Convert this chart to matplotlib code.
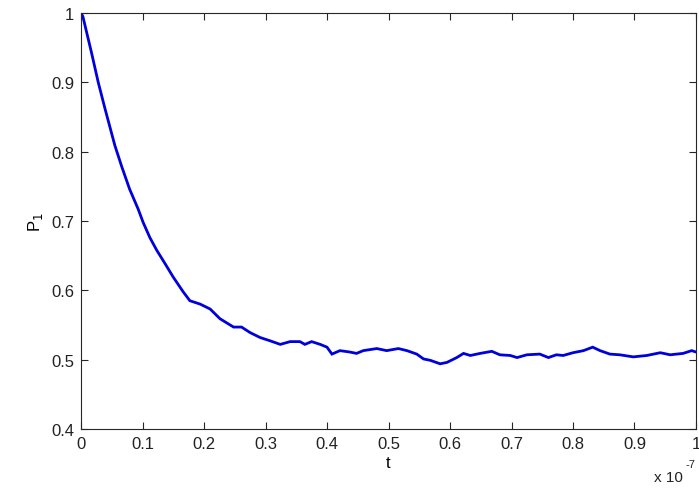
import numpy as np
import matplotlib
matplotlib.use("Agg")
import matplotlib.pyplot as plt

# time axis in units of 1e-7 s, P1
t_scaled = [
    0.000, 0.003, 0.017, 0.028, 0.039, 0.055, 0.066, 0.079, 0.093, 0.101,
    0.112, 0.123, 0.137, 0.150, 0.166, 0.177, 0.194, 0.210, 0.226, 0.248,
    0.261, 0.275, 0.291, 0.308, 0.324, 0.340, 0.356, 0.364, 0.375, 0.389,
    0.400, 0.408, 0.421, 0.437, 0.448, 0.459, 0.481, 0.497, 0.516, 0.530,
    0.546, 0.557, 0.568, 0.584, 0.595, 0.611, 0.622, 0.633, 0.649, 0.668,
    0.681, 0.698, 0.709, 0.725, 0.746, 0.760, 0.773, 0.784, 0.800, 0.817,
    0.832, 0.844, 0.860, 0.876, 0.898, 0.920, 0.942, 0.958, 0.979, 0.993,
    1.000,
]
p1 = [
    1.000, 0.995, 0.943, 0.900, 0.862, 0.809, 0.779, 0.746, 0.717, 0.698,
    0.676, 0.658, 0.638, 0.619, 0.598, 0.585, 0.580, 0.573, 0.559, 0.547,
    0.547, 0.539, 0.532, 0.527, 0.522, 0.526, 0.526, 0.522, 0.526, 0.522,
    0.518, 0.508, 0.513, 0.511, 0.509, 0.513, 0.516, 0.513, 0.516, 0.513,
    0.508, 0.501, 0.499, 0.494, 0.496, 0.503, 0.509, 0.506, 0.509, 0.512,
    0.507, 0.506, 0.503, 0.507, 0.508, 0.503, 0.507, 0.506, 0.510, 0.513,
    0.518, 0.513, 0.508, 0.507, 0.504, 0.506, 0.510, 0.507, 0.509, 0.513,
    0.511,
]

plt.rcParams["font.family"] = ["Liberation Sans", "DejaVu Sans"]
plt.rcParams["font.size"] = 12

fig = plt.figure(figsize=(6.99, 4.89), dpi=100)
ax = fig.add_axes([0.1159, 0.1207, 0.8798, 0.8507])

t = np.array(t_scaled) * 1e-7
ax.plot(t, p1, color="#0000dd", linewidth=2.0, solid_joinstyle="miter")

ax.set_xlim(0, 1e-7)
ax.set_ylim(0.4, 1.0)
ax.set_xticks(np.arange(0, 11) * 1e-8)
ax.set_xticklabels(["0", "0.1", "0.2", "0.3", "0.4", "0.5", "0.6", "0.7", "0.8", "0.9", "1"])
ax.set_yticks([0.4, 0.5, 0.6, 0.7, 0.8, 0.9, 1.0])
ax.set_yticklabels(["0.4", "0.5", "0.6", "0.7", "0.8", "0.9", "1"])

ax.tick_params(direction="in", length=5, width=0.8, top=True, right=True,
               colors="#262626", labelcolor="#222222", pad=5)
for side in ax.spines.values():
    side.set_color("#262626")
    side.set_linewidth(0.8)

ax.set_xlabel("t", labelpad=3)
ax.set_ylabel("P$_1$", labelpad=4)

# exponent note under the right end of the x axis
fig.text(654 / 699, 7 / 489, "x 10", fontsize=11, color="#222222", va="baseline")
fig.text(686 / 699, 21 / 489, "-7", fontsize=8, color="#222222", va="baseline")

fig.savefig("out.png", dpi=100, facecolor="white")
